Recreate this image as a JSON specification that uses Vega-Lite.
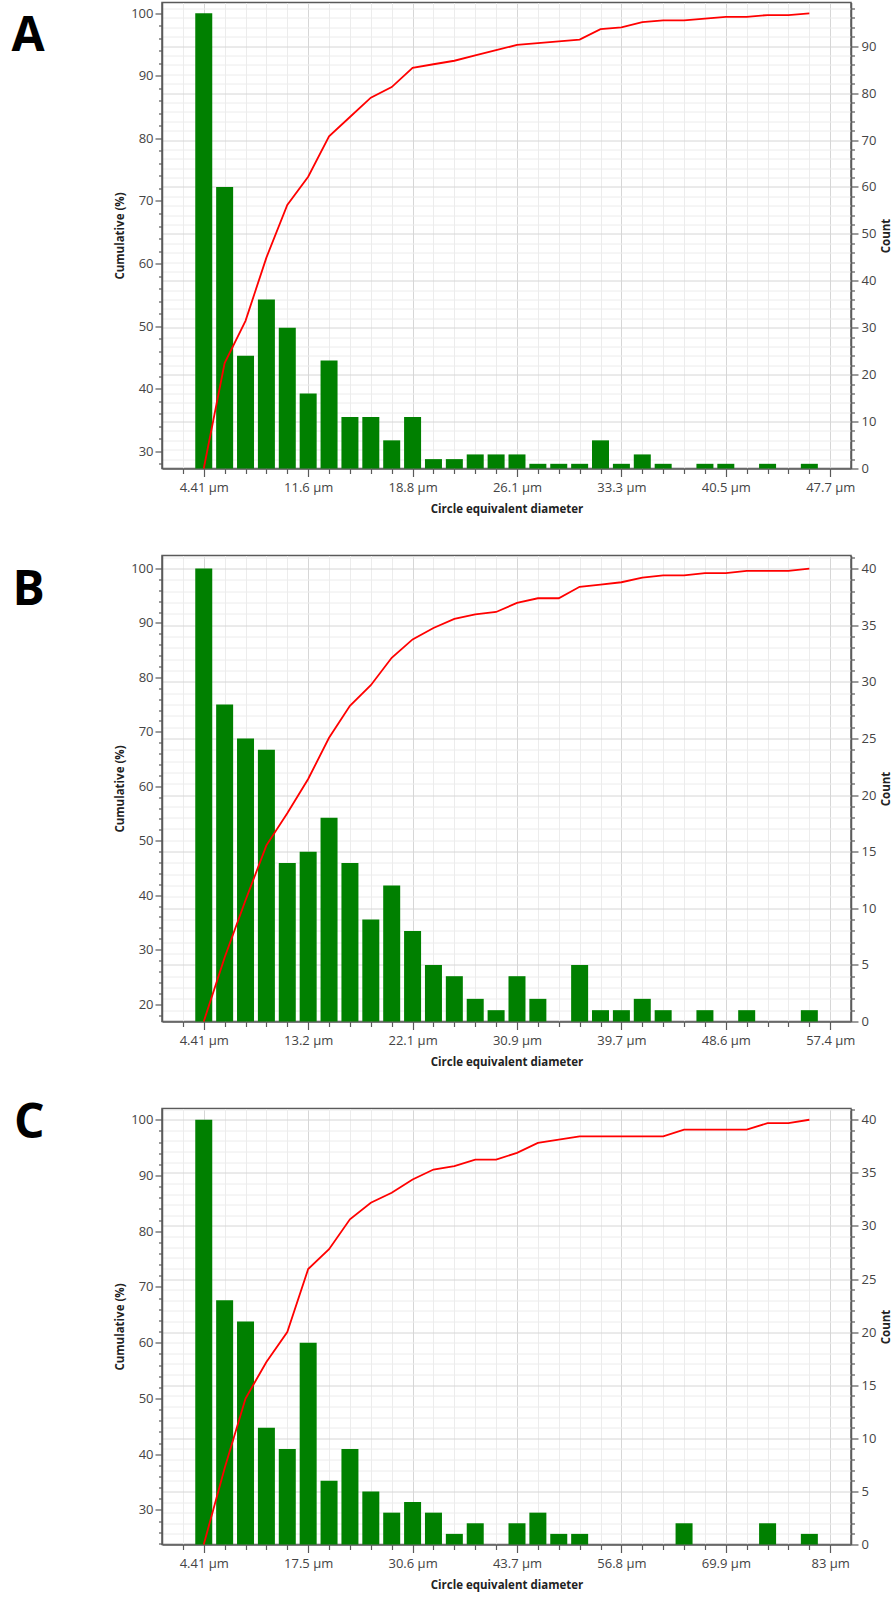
{
  "$schema": "https://vega.github.io/schema/vega-lite/v6.json",
  "padding": {"left": 10, "top": 1.5, "right": 0, "bottom": 0},
  "spacing": 38,
  "datasets": {
    "A": [
      {"d": 4.41, "count": 97, "cum": 27.247},
      {"d": 5.853, "count": 60, "cum": 44.101},
      {"d": 7.296, "count": 24, "cum": 50.843},
      {"d": 8.739, "count": 36, "cum": 60.955},
      {"d": 10.182, "count": 30, "cum": 69.382},
      {"d": 11.625, "count": 16, "cum": 73.876},
      {"d": 13.068, "count": 23, "cum": 80.337},
      {"d": 14.511, "count": 11, "cum": 83.427},
      {"d": 15.954, "count": 11, "cum": 86.517},
      {"d": 17.397, "count": 6, "cum": 88.202},
      {"d": 18.84, "count": 11, "cum": 91.292},
      {"d": 20.283, "count": 2, "cum": 91.854},
      {"d": 21.726, "count": 2, "cum": 92.416},
      {"d": 23.169, "count": 3, "cum": 93.258},
      {"d": 24.612, "count": 3, "cum": 94.101},
      {"d": 26.055, "count": 3, "cum": 94.944},
      {"d": 27.498, "count": 1, "cum": 95.225},
      {"d": 28.941, "count": 1, "cum": 95.506},
      {"d": 30.384, "count": 1, "cum": 95.787},
      {"d": 31.827, "count": 6, "cum": 97.472},
      {"d": 33.27, "count": 1, "cum": 97.753},
      {"d": 34.713, "count": 3, "cum": 98.596},
      {"d": 36.156, "count": 1, "cum": 98.876},
      {"d": 37.599, "count": 0, "cum": 98.876},
      {"d": 39.042, "count": 1, "cum": 99.157},
      {"d": 40.485, "count": 1, "cum": 99.438},
      {"d": 41.928, "count": 0, "cum": 99.438},
      {"d": 43.371, "count": 1, "cum": 99.719},
      {"d": 44.814, "count": 0, "cum": 99.719},
      {"d": 46.257, "count": 1, "cum": 100}
    ],
    "B": [
      {"d": 4.41, "count": 40, "cum": 16.807},
      {"d": 6.1763, "count": 28, "cum": 28.571},
      {"d": 7.9426, "count": 25, "cum": 39.076},
      {"d": 9.7089, "count": 24, "cum": 49.16},
      {"d": 11.4752, "count": 14, "cum": 55.042},
      {"d": 13.2415, "count": 15, "cum": 61.345},
      {"d": 15.0078, "count": 18, "cum": 68.908},
      {"d": 16.7741, "count": 14, "cum": 74.79},
      {"d": 18.5404, "count": 9, "cum": 78.571},
      {"d": 20.3067, "count": 12, "cum": 83.613},
      {"d": 22.073, "count": 8, "cum": 86.975},
      {"d": 23.8393, "count": 5, "cum": 89.076},
      {"d": 25.6056, "count": 4, "cum": 90.756},
      {"d": 27.3719, "count": 2, "cum": 91.597},
      {"d": 29.1382, "count": 1, "cum": 92.017},
      {"d": 30.9045, "count": 4, "cum": 93.697},
      {"d": 32.6708, "count": 2, "cum": 94.538},
      {"d": 34.4371, "count": 0, "cum": 94.538},
      {"d": 36.2034, "count": 5, "cum": 96.639},
      {"d": 37.9697, "count": 1, "cum": 97.059},
      {"d": 39.736, "count": 1, "cum": 97.479},
      {"d": 41.5023, "count": 2, "cum": 98.319},
      {"d": 43.2686, "count": 1, "cum": 98.739},
      {"d": 45.0349, "count": 0, "cum": 98.739},
      {"d": 46.8012, "count": 1, "cum": 99.16},
      {"d": 48.5675, "count": 0, "cum": 99.16},
      {"d": 50.3338, "count": 1, "cum": 99.58},
      {"d": 52.1001, "count": 0, "cum": 99.58},
      {"d": 53.8664, "count": 0, "cum": 99.58},
      {"d": 55.6327, "count": 1, "cum": 100}
    ],
    "C": [
      {"d": 4.41, "count": 40, "cum": 23.81},
      {"d": 7.0297, "count": 23, "cum": 37.5},
      {"d": 9.6494, "count": 21, "cum": 50.0},
      {"d": 12.2691, "count": 11, "cum": 56.548},
      {"d": 14.8888, "count": 9, "cum": 61.905},
      {"d": 17.5085, "count": 19, "cum": 73.214},
      {"d": 20.1282, "count": 6, "cum": 76.786},
      {"d": 22.7479, "count": 9, "cum": 82.143},
      {"d": 25.3676, "count": 5, "cum": 85.119},
      {"d": 27.9873, "count": 3, "cum": 86.905},
      {"d": 30.607, "count": 4, "cum": 89.286},
      {"d": 33.2267, "count": 3, "cum": 91.071},
      {"d": 35.8464, "count": 1, "cum": 91.667},
      {"d": 38.4661, "count": 2, "cum": 92.857},
      {"d": 41.0858, "count": 0, "cum": 92.857},
      {"d": 43.7055, "count": 2, "cum": 94.048},
      {"d": 46.3252, "count": 3, "cum": 95.833},
      {"d": 48.9449, "count": 1, "cum": 96.429},
      {"d": 51.5646, "count": 1, "cum": 97.024},
      {"d": 54.1843, "count": 0, "cum": 97.024},
      {"d": 56.804, "count": 0, "cum": 97.024},
      {"d": 59.4237, "count": 0, "cum": 97.024},
      {"d": 62.0434, "count": 0, "cum": 97.024},
      {"d": 64.6631, "count": 2, "cum": 98.214},
      {"d": 67.2828, "count": 0, "cum": 98.214},
      {"d": 69.9025, "count": 0, "cum": 98.214},
      {"d": 72.5222, "count": 0, "cum": 98.214},
      {"d": 75.1419, "count": 2, "cum": 99.405},
      {"d": 77.7616, "count": 0, "cum": 99.405},
      {"d": 80.3813, "count": 1, "cum": 100}
    ]
  },
  "vconcat": [
    {
      "width": 689, "height": 466,
      "data": {"name": "A"},
      "title": {"text": "A", "orient": "left", "anchor": "end", "frame": "group", "angle": 0, "align": "left", "baseline": "top", "offset": 70, "dy": 10, "fontSize": 48, "fontWeight": "bold", "font": "Open Sans", "color": "#000000"},
      "layer": [
        {
          "mark": {"type": "bar", "color": "#008000", "size": 17},
          "encoding": {
            "x": {"field": "d", "type": "quantitative", "scale": {"domain": [1.87, 48.79], "nice": false, "zero": false},
              "axis": {"orient": "bottom", "values": [4.41, 11.625, 18.84, 26.055, 33.27, 40.485, 47.7], "labelExpr": "format(datum.value, '.3') + ' µm'", "title": "Circle equivalent diameter", "grid": true, "gridColor": "#d6d6d6", "tickSize": 8, "labelPadding": 5, "titlePadding": 9, "labelFlush": false}},
            "y": {"field": "count", "type": "quantitative", "scale": {"domain": [0, 99.3], "nice": false},
              "axis": {"orient": "right", "title": "Count", "titleAngle": 270, "titleBaseline": "top", "values": [0, 10, 20, 30, 40, 50, 60, 70, 80, 90], "tickSize": 7, "labelPadding": 3, "titlePadding": 5, "grid": true, "gridColor": "#d6d6d6"}}
          }
        },
        {
          "mark": {"type": "bar", "opacity": 0, "size": 17},
          "encoding": {
            "x": {"field": "d", "type": "quantitative", "scale": {"domain": [1.87, 48.79], "nice": false, "zero": false},
              "axis": {"orient": "bottom", "values": [2.967, 5.853, 7.296, 8.739, 10.182, 13.068, 14.511, 15.954, 17.397, 20.283, 21.726, 23.169, 24.612, 27.498, 28.941, 30.384, 31.827, 34.713, 36.156, 37.599, 39.042, 41.928, 43.371, 44.814, 46.257], "labels": false, "title": null, "domain": false, "grid": true, "gridColor": "#ececec", "tickSize": 5}},
            "y": {"field": "count", "type": "quantitative", "scale": {"domain": [0, 99.3], "nice": false},
              "axis": {"orient": "right", "values": [2, 4, 6, 8, 12, 14, 16, 18, 22, 24, 26, 28, 32, 34, 36, 38, 42, 44, 46, 48, 52, 54, 56, 58, 62, 64, 66, 68, 72, 74, 76, 78, 82, 84, 86, 88, 92, 94, 96, 98], "labels": false, "title": null, "domain": false, "grid": true, "gridColor": "#ececec", "tickSize": 3.5}}
          }
        },
        {
          "mark": {"type": "line", "color": "#ff0000", "strokeWidth": 1.8},
          "encoding": {
            "x": {"field": "d", "type": "quantitative", "scale": {"domain": [1.87, 48.79], "nice": false, "zero": false}, "axis": null},
            "y": {"field": "cum", "type": "quantitative", "scale": {"domain": [27.247, 101.725], "nice": false, "zero": false},
              "axis": {"orient": "left", "title": "Cumulative (%)", "values": [30, 40, 50, 60, 70, 80, 90, 100], "tickSize": 7, "labelPadding": 2, "titlePadding": 5, "grid": false}}
          }
        },
        {
          "mark": {"type": "line", "opacity": 0},
          "encoding": {
            "x": {"field": "d", "type": "quantitative", "scale": {"domain": [1.87, 48.79], "nice": false, "zero": false}, "axis": null},
            "y": {"field": "cum", "type": "quantitative", "scale": {"domain": [27.247, 101.725], "nice": false, "zero": false},
              "axis": {"orient": "left", "values": [28, 32, 34, 36, 38, 42, 44, 46, 48, 52, 54, 56, 58, 62, 64, 66, 68, 72, 74, 76, 78, 82, 84, 86, 88, 92, 94, 96, 98], "labels": false, "title": null, "domain": false, "grid": false, "tickSize": 3.5}}
          }
        }
      ],
      "resolve": {"scale": {"y": "independent"}, "axis": {"x": "independent", "y": "independent"}}
    },
    {
      "spacing": 29,
      "vconcat": [
        {
          "width": 689, "height": 466,
          "data": {"name": "B"},
          "title": {"text": "B", "orient": "left", "anchor": "end", "frame": "group", "angle": 0, "align": "left", "baseline": "top", "offset": 70, "dy": 11, "fontSize": 48, "fontWeight": "bold", "font": "Open Sans", "color": "#000000"},
          "layer": [
            {
              "mark": {"type": "bar", "color": "#008000", "size": 17},
              "encoding": {
                "x": {"field": "d", "type": "quantitative", "scale": {"domain": [1.301, 58.734], "nice": false, "zero": false},
                  "axis": {"orient": "bottom", "values": [4.41, 13.2415, 22.073, 30.9045, 39.736, 48.5675, 57.4], "labelExpr": "format(datum.value, '.3') + ' µm'", "title": "Circle equivalent diameter", "grid": true, "gridColor": "#d6d6d6", "tickSize": 8, "labelPadding": 5, "titlePadding": 9, "labelFlush": false}},
                "y": {"field": "count", "type": "quantitative", "scale": {"domain": [0, 41.15], "nice": false},
                  "axis": {"orient": "right", "title": "Count", "titleAngle": 270, "titleBaseline": "top", "values": [0, 5, 10, 15, 20, 25, 30, 35, 40], "tickSize": 7, "labelPadding": 3, "titlePadding": 5, "grid": true, "gridColor": "#d6d6d6"}}
              }
            },
            {
              "mark": {"type": "bar", "opacity": 0, "size": 17},
              "encoding": {
                "x": {"field": "d", "type": "quantitative", "scale": {"domain": [1.301, 58.734], "nice": false, "zero": false},
                  "axis": {"orient": "bottom", "values": [2.6437, 6.1763, 7.9426, 9.7089, 11.4752, 15.0078, 16.7741, 18.5404, 20.3067, 23.8393, 25.6056, 27.3719, 29.1382, 32.6708, 34.4371, 36.2034, 37.9697, 41.5023, 43.2686, 45.0349, 46.8012, 50.3338, 52.1001, 53.8664, 55.6327], "labels": false, "title": null, "domain": false, "grid": true, "gridColor": "#ececec", "tickSize": 5}},
                "y": {"field": "count", "type": "quantitative", "scale": {"domain": [0, 41.15], "nice": false},
                  "axis": {"orient": "right", "values": [1, 2, 3, 4, 6, 7, 8, 9, 11, 12, 13, 14, 16, 17, 18, 19, 21, 22, 23, 24, 26, 27, 28, 29, 31, 32, 33, 34, 36, 37, 38, 39, 41], "labels": false, "title": null, "domain": false, "grid": true, "gridColor": "#ececec", "tickSize": 3.5}}
              }
            },
            {
              "mark": {"type": "line", "color": "#ff0000", "strokeWidth": 1.8},
              "encoding": {
                "x": {"field": "d", "type": "quantitative", "scale": {"domain": [1.301, 58.734], "nice": false, "zero": false}, "axis": null},
                "y": {"field": "cum", "type": "quantitative", "scale": {"domain": [16.807, 102.392], "nice": false, "zero": false},
                  "axis": {"orient": "left", "title": "Cumulative (%)", "values": [20, 30, 40, 50, 60, 70, 80, 90, 100], "tickSize": 7, "labelPadding": 2, "titlePadding": 5, "grid": false}}
              }
            },
            {
              "mark": {"type": "line", "opacity": 0},
              "encoding": {
                "x": {"field": "d", "type": "quantitative", "scale": {"domain": [1.301, 58.734], "nice": false, "zero": false}, "axis": null},
                "y": {"field": "cum", "type": "quantitative", "scale": {"domain": [16.807, 102.392], "nice": false, "zero": false},
                  "axis": {"orient": "left", "values": [18, 22, 24, 26, 28, 32, 34, 36, 38, 42, 44, 46, 48, 52, 54, 56, 58, 62, 64, 66, 68, 72, 74, 76, 78, 82, 84, 86, 88, 92, 94, 96, 98], "labels": false, "title": null, "domain": false, "grid": false, "tickSize": 3.5}}
              }
            }
          ],
          "resolve": {"scale": {"y": "independent"}, "axis": {"x": "independent", "y": "independent"}}
        },
        {
          "width": 689, "height": 436,
          "data": {"name": "C"},
          "title": {"text": "C", "orient": "left", "anchor": "end", "frame": "group", "angle": 0, "align": "left", "baseline": "top", "offset": 70, "dy": -9, "fontSize": 48, "fontWeight": "bold", "font": "Open Sans", "color": "#000000"},
          "layer": [
            {
              "mark": {"type": "bar", "color": "#008000", "size": 17},
              "encoding": {
                "x": {"field": "d", "type": "quantitative", "scale": {"domain": [-0.2007, 84.978], "nice": false, "zero": false},
                  "axis": {"orient": "bottom", "values": [4.41, 17.5085, 30.607, 43.7055, 56.804, 69.9025, 83], "labelExpr": "format(datum.value, '.3') + ' µm'", "title": "Circle equivalent diameter", "grid": true, "gridColor": "#d6d6d6", "tickSize": 8, "labelPadding": 5, "titlePadding": 9, "labelFlush": false}},
                "y": {"field": "count", "type": "quantitative", "scale": {"domain": [0, 41.06], "nice": false},
                  "axis": {"orient": "right", "title": "Count", "titleAngle": 270, "titleBaseline": "top", "values": [0, 5, 10, 15, 20, 25, 30, 35, 40], "tickSize": 7, "labelPadding": 3, "titlePadding": 5, "grid": true, "gridColor": "#d6d6d6"}}
              }
            },
            {
              "mark": {"type": "bar", "opacity": 0, "size": 17},
              "encoding": {
                "x": {"field": "d", "type": "quantitative", "scale": {"domain": [-0.2007, 84.978], "nice": false, "zero": false},
                  "axis": {"orient": "bottom", "values": [1.7903, 7.0297, 9.6494, 12.2691, 14.8888, 20.1282, 22.7479, 25.3676, 27.9873, 33.2267, 35.8464, 38.4661, 41.0858, 46.3252, 48.9449, 51.5646, 54.1843, 59.4237, 62.0434, 64.6631, 67.2828, 72.5222, 75.1419, 77.7616, 80.3813], "labels": false, "title": null, "domain": false, "grid": true, "gridColor": "#ececec", "tickSize": 5}},
                "y": {"field": "count", "type": "quantitative", "scale": {"domain": [0, 41.06], "nice": false},
                  "axis": {"orient": "right", "values": [1, 2, 3, 4, 6, 7, 8, 9, 11, 12, 13, 14, 16, 17, 18, 19, 21, 22, 23, 24, 26, 27, 28, 29, 31, 32, 33, 34, 36, 37, 38, 39, 41], "labels": false, "title": null, "domain": false, "grid": true, "gridColor": "#ececec", "tickSize": 3.5}}
              }
            },
            {
              "mark": {"type": "line", "color": "#ff0000", "strokeWidth": 1.8},
              "encoding": {
                "x": {"field": "d", "type": "quantitative", "scale": {"domain": [-0.2007, 84.978], "nice": false, "zero": false}, "axis": null},
                "y": {"field": "cum", "type": "quantitative", "scale": {"domain": [23.81, 102.019], "nice": false, "zero": false},
                  "axis": {"orient": "left", "title": "Cumulative (%)", "values": [30, 40, 50, 60, 70, 80, 90, 100], "tickSize": 7, "labelPadding": 2, "titlePadding": 5, "grid": false}}
              }
            },
            {
              "mark": {"type": "line", "opacity": 0},
              "encoding": {
                "x": {"field": "d", "type": "quantitative", "scale": {"domain": [-0.2007, 84.978], "nice": false, "zero": false}, "axis": null},
                "y": {"field": "cum", "type": "quantitative", "scale": {"domain": [23.81, 102.019], "nice": false, "zero": false},
                  "axis": {"orient": "left", "values": [24, 26, 28, 32, 34, 36, 38, 42, 44, 46, 48, 52, 54, 56, 58, 62, 64, 66, 68, 72, 74, 76, 78, 82, 84, 86, 88, 92, 94, 96, 98], "labels": false, "title": null, "domain": false, "grid": false, "tickSize": 3.5}}
              }
            }
          ],
          "resolve": {"scale": {"y": "independent"}, "axis": {"x": "independent", "y": "independent"}}
        }
      ]
    }
  ],
  "config": {
    "view": {"stroke": "#5a5a5a", "strokeWidth": 1.5},
    "axis": {
      "labelFont": "Open Sans", "labelFontSize": 13, "labelColor": "#444444",
      "titleFont": "Open Sans", "titleFontSize": 11.5, "titleFontWeight": "bold", "titleColor": "#222222",
      "domainColor": "#5a5a5a", "domainWidth": 1.5, "tickColor": "#5a5a5a", "tickWidth": 1.2,
      "gridWidth": 1
    }
  }
}
